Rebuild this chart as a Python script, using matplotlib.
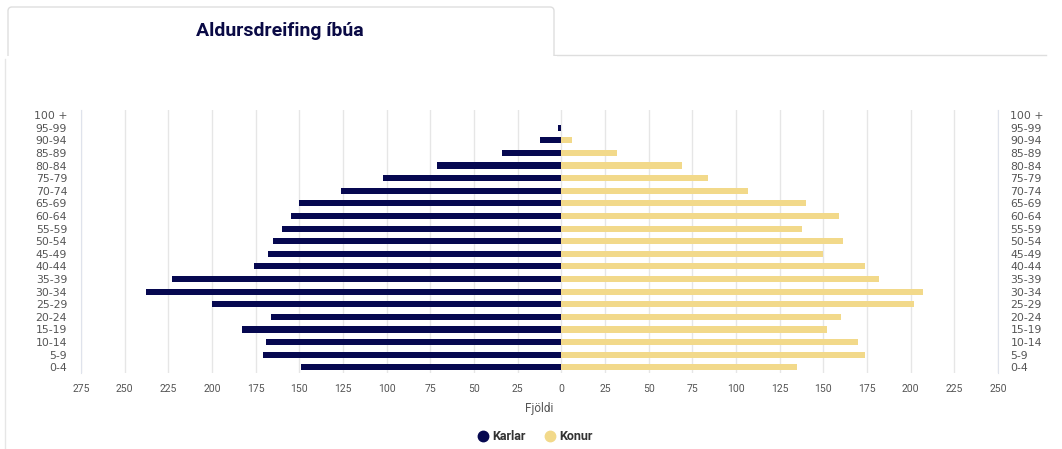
import matplotlib.pyplot as plt
from matplotlib.patches import FancyBboxPatch
from matplotlib.lines import Line2D

# age groups, bottom to top
age_groups = ["0-4", "5-9", "10-14", "15-19", "20-24", "25-29", "30-34", "35-39",
              "40-44", "45-49", "50-54", "55-59", "60-64", "65-69", "70-74",
              "75-79", "80-84", "85-89", "90-94", "95-99", "100 +"]
karlar = [149, 171, 169, 183, 166, 200, 238, 223, 176, 168, 165, 160, 155, 150,
          126, 102, 71, 34, 12, 2, 0]
konur = [135, 174, 170, 152, 160, 202, 207, 182, 174, 150, 161, 138, 159, 140,
         107, 84, 69, 32, 6, 0, 0]
x_ticks = [-275, -250, -225, -200, -175, -150, -125, -100, -75, -50, -25, 0,
           25, 50, 75, 100, 125, 150, 175, 200, 225, 250]

navy = "#060850"
gold = "#f2d98a"
label_grey = "#555555"
line_grey = "#e6e6e6"
narrow = ["Roboto", "DejaVu Sans"]

W, H = 1062, 449
fig = plt.figure(figsize=(W / 100, H / 100), dpi=100)
fig.patch.set_facecolor("white")

# tab frame in figure pixel coords
frame = fig.add_axes([0, 0, 1, 1])
frame.set_xlim(0, W)
frame.set_ylim(H, 0)
frame.axis("off")
tab = FancyBboxPatch((8, 7), 546, 60, boxstyle="round,pad=0,rounding_size=4",
                     fc="white", ec="#dedede", lw=1)
frame.add_patch(tab)
frame.add_patch(plt.Rectangle((6, 55.5), 551, 14, fc="white", ec="none", zorder=3))
frame.plot([554, 1046], [54.5, 54.5], color="#dedede", lw=1)
frame.plot([5, 5], [59, H], color="#e6e6e6", lw=1, zorder=4)
frame.text(280, 31, "Aldursdreifing íbúa", ha="center", va="center",
           fontsize=14, fontweight="bold", color="#0a0a45", family=narrow)

ax = fig.add_axes([81 / W, 1 - 373 / H, (998 - 81) / W, (373 - 110) / H])
y = list(range(len(age_groups)))
ax.barh(y, [-v for v in karlar], height=0.48, color=navy, label="Karlar")
ax.barh(y, konur, height=0.48, color=gold, label="Konur")

ax.set_xlim(-275, 250)
ax.set_ylim(-0.45, 20.4)
ax.set_xticks(x_ticks)
ax.set_xticklabels([str(abs(t)) for t in x_ticks], fontsize=7.5, color=label_grey,
                   family=narrow)
ax.set_yticks(y)
ax.set_yticklabels(age_groups, fontsize=7.8, color=label_grey)
ax.tick_params(axis="both", length=0)
ax.tick_params(axis="x", pad=8)
ax.tick_params(axis="y", pad=10)
ax.grid(axis="x", color=line_grey, lw=1)
ax.set_axisbelow(True)
for side in ["top", "bottom"]:
    ax.spines[side].set_visible(False)
for side in ["left", "right"]:
    ax.spines[side].set_color("#dfe3ec")
ax.set_xlabel("Fjöldi", fontsize=8.5, color=label_grey, labelpad=6, family=narrow)

ax2 = ax.twinx()
ax2.set_ylim(ax.get_ylim())
ax2.set_yticks(y)
ax2.set_yticklabels(age_groups, fontsize=7.8, color=label_grey)
ax2.tick_params(axis="y", length=0, pad=9)
for side in ["top", "bottom", "left", "right"]:
    ax2.spines[side].set_visible(False)

handles = [Line2D([], [], marker="o", ls="", color=navy, markersize=7.5),
           Line2D([], [], marker="o", ls="", color=gold, markersize=7.5)]
leg = fig.legend(handles, ["Karlar", "Konur"], loc="center", ncol=2,
                 bbox_to_anchor=(533 / W, 1 - 437 / H), frameon=False,
                 handletextpad=0.0, columnspacing=1.2, handlelength=1.5,
                 prop={"family": narrow, "weight": "bold", "size": 9})
for t in leg.get_texts():
    t.set_color("#333333")

fig.savefig("out.png", dpi=100)
